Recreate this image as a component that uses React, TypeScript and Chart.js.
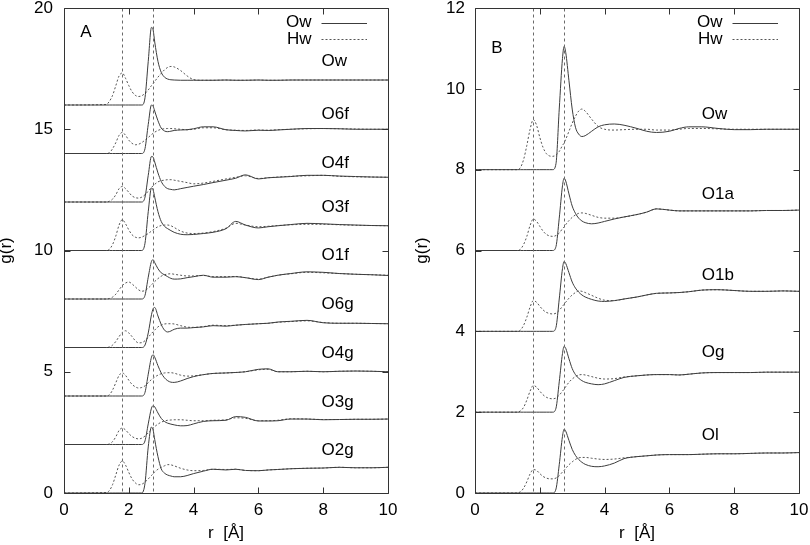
import React, { useEffect, useRef } from 'react';
import { Chart, registerables } from 'chart.js';
Chart.register(...registerables);

// ---------- data ----------
// shared r grid [Å]
const R = [0, 1.3, 1.4, 1.5, 1.6, 1.7, 1.8, 1.9, 2.0, 2.1,
  2.2, 2.3, 2.4, 2.5, 2.6, 2.7, 2.75, 2.8, 2.9, 3.0,
  3.1, 3.2, 3.3, 3.4, 3.6, 3.8, 4.0, 4.3, 4.6, 5.0,
  5.3, 5.6, 6.0, 6.3, 6.6, 7.0, 7.5, 8.0, 8.5, 9.0,
  9.5, 10];

const X_TICKS = [0, 2, 4, 6, 8, 10];
const VLINES = [1.8, 2.75];

// Panel A
const A_NAMES = ['Ow', 'O6f', 'O4f', 'O3f', 'O1f', 'O6g', 'O4g', 'O3g', 'O2g'];
const A_OFFSETS = [16, 14, 12, 10, 8, 6, 4, 2, 0];
const A_LABEL_Y = [17.8, 15.6, 13.6, 11.8, 9.8, 7.8, 5.75, 3.75, 1.75];

const A_OW_O = [0, 0, 0, 0, 0, 0, 0, 0, 0, 0,
  0, 0, 0, 0.3, 1.8, 3.2, 3.1, 2.6, 1.8, 1.35,
  1.15, 1.07, 1.04, 1.03, 1.02, 1.02, 1.02, 1.02, 1.02, 1.03,
  1.02, 1.02, 1.03, 1.02, 1.02, 1.03, 1.03, 1.03, 1.03, 1.03,
  1.03, 1.03];
const A_OW_H = [0, 0.02, 0.15, 0.4, 0.8, 1.2, 1.32, 1.1, 0.8, 0.55,
  0.4, 0.35, 0.38, 0.48, 0.62, 0.8, 0.88, 0.97, 1.15, 1.3,
  1.45, 1.55, 1.59, 1.57, 1.42, 1.2, 1.05, 1.02, 1.02, 1.03,
  1.02, 1.02, 1.03, 1.02, 1.02, 1.03, 1.03, 1.03, 1.03, 1.03,
  1.03, 1.03];
const A_O6F_O = [0, 0, 0, 0, 0, 0, 0, 0, 0, 0,
  0, 0, 0, 0.2, 1.2, 2.0, 1.95, 1.75, 1.35, 1.05,
  0.93, 0.9, 0.92, 0.95, 0.97, 0.98, 1.02, 1.1, 1.1, 0.98,
  0.95, 0.93, 0.96, 0.95, 0.97, 1.0, 1.03, 1.03, 1.02, 1.0,
  1.0, 1.0];
const A_O6F_H = [0, 0, 0.03, 0.2, 0.45, 0.75, 0.87, 0.75, 0.55, 0.42,
  0.36, 0.38, 0.45, 0.55, 0.66, 0.78, 0.83, 0.88, 0.95, 1.0,
  1.02, 1.03, 1.03, 1.02, 1.0, 0.98, 1.0, 1.06, 1.06, 0.98,
  0.96, 0.95, 0.97, 0.96, 0.98, 1.0, 1.02, 1.03, 1.02, 1.01,
  1.0, 1.0];
const A_O4F_O = [0, 0, 0, 0, 0, 0, 0, 0, 0, 0,
  0, 0, 0, 0.2, 1.1, 1.88, 1.85, 1.65, 1.2, 0.85,
  0.65, 0.55, 0.52, 0.5, 0.55, 0.6, 0.65, 0.72, 0.8, 0.9,
  0.98, 1.12, 0.95, 1.0, 1.02, 1.05, 1.1, 1.1, 1.07, 1.05,
  1.03, 1.02];
const A_O4F_H = [0, 0, 0.03, 0.12, 0.3, 0.55, 0.64, 0.55, 0.4, 0.25,
  0.18, 0.16, 0.2, 0.3, 0.45, 0.6, 0.67, 0.73, 0.83, 0.88,
  0.9, 0.92, 0.92, 0.9, 0.85, 0.8, 0.75, 0.78, 0.85, 0.95,
  1.02, 1.08, 0.97, 1.0, 1.03, 1.06, 1.08, 1.1, 1.06, 1.04,
  1.03, 1.02];
const A_O3F_O = [0, 0, 0, 0, 0, 0, 0, 0, 0, 0,
  0, 0, 0, 0.3, 1.6, 2.58, 2.5, 2.2, 1.6, 1.2,
  1.0, 0.9, 0.82, 0.75, 0.67, 0.65, 0.66, 0.7, 0.75, 0.9,
  1.2, 1.05, 0.93, 0.98, 1.02, 1.07, 1.12, 1.1, 1.07, 1.05,
  1.03, 1.02];
const A_O3F_H = [0, 0, 0.05, 0.25, 0.6, 1.05, 1.27, 1.1, 0.85, 0.65,
  0.55, 0.52, 0.55, 0.62, 0.7, 0.8, 0.85, 0.9, 0.98, 1.03,
  1.05, 1.05, 1.02, 0.95, 0.8, 0.72, 0.7, 0.72, 0.78, 0.92,
  1.12, 1.05, 0.98, 1.0, 1.03, 1.06, 1.08, 1.08, 1.06, 1.04,
  1.03, 1.02];
const A_O1F_O = [0, 0, 0, 0, 0, 0, 0, 0, 0, 0,
  0, 0, 0, 0.15, 0.9, 1.55, 1.62, 1.5, 1.25, 1.08,
  1.0, 0.92, 0.85, 0.82, 0.83, 0.88, 0.92, 0.98, 0.9, 0.9,
  0.92, 0.88, 0.8, 0.9, 0.98, 1.05, 1.12, 1.1, 1.05, 1.02,
  1.0, 0.97];
const A_O1F_H = [0, 0, 0.02, 0.08, 0.2, 0.38, 0.55, 0.66, 0.7, 0.62,
  0.5, 0.38, 0.32, 0.35, 0.45, 0.58, 0.65, 0.72, 0.84, 0.94,
  1.0, 1.03, 1.04, 1.02, 0.98, 0.95, 0.95, 0.97, 0.92, 0.92,
  0.93, 0.88, 0.82, 0.9, 0.98, 1.04, 1.1, 1.08, 1.05, 1.02,
  1.0, 0.98];
const A_O6G_O = [0, 0, 0, 0, 0, 0, 0, 0, 0, 0,
  0, 0, 0, 0.1, 0.6, 1.35, 1.6, 1.65, 1.3, 0.95,
  0.72, 0.64, 0.68, 0.75, 0.8, 0.8, 0.82, 0.85, 0.9, 0.88,
  0.92, 0.95, 0.98, 1.0, 1.05, 1.08, 1.12, 1.02, 1.0, 1.0,
  0.99, 0.98];
const A_O6G_H = [0, 0, 0.02, 0.1, 0.25, 0.45, 0.62, 0.69, 0.6, 0.45,
  0.28, 0.19, 0.2, 0.28, 0.42, 0.58, 0.65, 0.72, 0.85, 0.93,
  0.97, 0.98, 0.98, 0.97, 0.9, 0.84, 0.83, 0.86, 0.92, 0.9,
  0.92, 0.95, 0.98, 1.0, 1.04, 1.07, 1.1, 1.03, 1.0, 1.0,
  0.99, 0.98];
const A_O4G_O = [0, 0, 0, 0, 0, 0, 0, 0, 0, 0,
  0, 0, 0, 0.15, 0.9, 1.6, 1.7, 1.6, 1.25, 0.95,
  0.75, 0.63, 0.57, 0.56, 0.62, 0.72, 0.8, 0.88, 0.93, 0.95,
  0.97, 1.0, 1.1, 1.12, 1.0, 1.0, 1.02, 1.0, 1.02, 1.03,
  1.02, 1.0];
const A_O4G_H = [0, 0, 0.05, 0.25, 0.55, 0.85, 0.95, 0.85, 0.65, 0.48,
  0.38, 0.33, 0.35, 0.42, 0.55, 0.68, 0.73, 0.78, 0.86, 0.92,
  0.95, 0.96, 0.96, 0.94, 0.86, 0.82, 0.83, 0.88, 0.93, 0.95,
  0.97, 1.0, 1.08, 1.1, 1.0, 1.0, 1.02, 1.0, 1.02, 1.03,
  1.02, 1.0];
const A_O3G_O = [0, 0, 0, 0, 0, 0, 0, 0, 0, 0,
  0, 0, 0, 0.15, 0.85, 1.5, 1.6, 1.55, 1.3, 1.08,
  0.95, 0.88, 0.84, 0.81, 0.77, 0.78, 0.85, 0.95, 0.98, 1.0,
  1.15, 1.12, 0.97, 0.97, 0.98, 1.05, 1.05, 1.02, 1.03, 1.04,
  1.04, 1.05];
const A_O3G_H = [0, 0, 0.02, 0.12, 0.32, 0.58, 0.68, 0.6, 0.45, 0.33,
  0.26, 0.23, 0.26, 0.35, 0.48, 0.62, 0.68, 0.74, 0.84, 0.92,
  0.97, 1.0, 1.01, 1.02, 1.02, 1.0, 0.98, 0.98, 1.0, 1.02,
  1.1, 1.08, 0.98, 0.98, 1.0, 1.06, 1.05, 1.03, 1.03, 1.04,
  1.04, 1.05];
const A_O2G_O = [0, 0, 0, 0, 0, 0, 0, 0, 0, 0,
  0, 0, 0, 0.4, 1.9, 2.72, 2.6, 2.2, 1.5, 1.0,
  0.82, 0.74, 0.7, 0.67, 0.67, 0.72, 0.8, 0.9, 0.98, 0.95,
  0.98, 0.93, 0.92, 0.95, 0.97, 1.0, 1.02, 1.03, 1.06, 1.04,
  1.04, 1.06];
const A_O2G_H = [0, 0.02, 0.1, 0.35, 0.75, 1.15, 1.32, 1.15, 0.85, 0.58,
  0.42, 0.34, 0.36, 0.45, 0.58, 0.72, 0.8, 0.87, 0.98, 1.06,
  1.12, 1.17, 1.16, 1.12, 1.02, 0.95, 0.92, 0.93, 0.98, 0.97,
  0.98, 0.93, 0.92, 0.95, 0.97, 1.0, 1.02, 1.03, 1.06, 1.04,
  1.04, 1.06];

// Panel B
const B_NAMES = ['Ow', 'O1a', 'O1b', 'Og', 'Ol'];
const B_OFFSETS = [8, 6, 4, 2, 0];
const B_LABEL_Y = [9.38, 7.4, 5.38, 3.48, 1.42];

const B_OW_O = [0, 0, 0, 0, 0, 0, 0, 0, 0, 0,
  0, 0, 0, 0.15, 1.5, 2.75, 3.05, 2.9, 2.2, 1.5,
  1.05, 0.88, 0.82, 0.84, 0.95, 1.06, 1.11, 1.13, 1.1, 1.02,
  0.95, 0.92, 0.95, 1.02, 1.06, 1.06, 1.02, 0.99, 0.99, 1.0,
  1.0, 1.0];
const B_OW_H = [0, 0, 0.05, 0.25, 0.6, 1.0, 1.24, 1.1, 0.8, 0.55,
  0.4, 0.34, 0.33, 0.36, 0.45, 0.6, 0.66, 0.75, 0.95, 1.15,
  1.32, 1.45, 1.5, 1.45, 1.25, 1.07, 1.0, 0.98, 0.99, 1.0,
  1.0, 0.98, 0.98, 1.0, 1.02, 1.02, 1.01, 1.0, 1.0, 1.0,
  1.0, 1.0];
const B_O1A_O = [0, 0, 0, 0, 0, 0, 0, 0, 0, 0,
  0, 0, 0, 0.1, 0.8, 1.6, 1.79, 1.72, 1.4, 1.1,
  0.92, 0.8, 0.73, 0.69, 0.66, 0.68, 0.72, 0.78, 0.83, 0.89,
  0.95, 1.03, 1.0, 0.98, 0.98, 0.98, 0.98, 0.98, 0.98, 0.99,
  0.99, 1.0];
const B_O1A_H = [0, 0, 0.03, 0.15, 0.35, 0.62, 0.78, 0.72, 0.6, 0.48,
  0.4, 0.36, 0.35, 0.37, 0.43, 0.54, 0.58, 0.64, 0.74, 0.82,
  0.88, 0.92, 0.93, 0.92, 0.87, 0.82, 0.8, 0.8, 0.83, 0.89,
  0.95, 1.03, 1.0, 0.98, 0.98, 0.98, 0.98, 0.98, 0.98, 0.99,
  0.99, 1.0];
const B_O1B_O = [0, 0, 0, 0, 0, 0, 0, 0, 0, 0,
  0, 0, 0, 0.1, 0.8, 1.55, 1.73, 1.68, 1.45, 1.22,
  1.07, 0.97, 0.9, 0.85, 0.79, 0.75, 0.74, 0.76, 0.8, 0.85,
  0.9, 0.94, 0.95, 0.96, 0.98, 1.02, 1.03, 1.01, 0.99, 0.99,
  1.0, 0.99];
const B_O1B_H = [0, 0, 0.03, 0.15, 0.35, 0.6, 0.76, 0.72, 0.62, 0.53,
  0.47, 0.44, 0.43, 0.45, 0.52, 0.62, 0.67, 0.72, 0.82, 0.9,
  0.96, 1.0, 0.99, 0.96, 0.89, 0.82, 0.77, 0.76, 0.8, 0.85,
  0.9, 0.94, 0.95, 0.96, 0.98, 1.02, 1.03, 1.01, 0.99, 0.99,
  1.0, 0.99];
const B_OG_O = [0, 0, 0, 0, 0, 0, 0, 0, 0, 0,
  0, 0, 0, 0.1, 0.75, 1.45, 1.63, 1.58, 1.32, 1.08,
  0.93, 0.84, 0.78, 0.74, 0.7, 0.68, 0.7, 0.78, 0.86, 0.9,
  0.92, 0.93, 0.93, 0.92, 0.94, 0.97, 0.98, 0.98, 0.98, 0.99,
  0.99, 0.99];
const B_OG_H = [0, 0, 0.03, 0.12, 0.3, 0.52, 0.66, 0.62, 0.52, 0.43,
  0.37, 0.34, 0.33, 0.35, 0.42, 0.52, 0.57, 0.63, 0.74, 0.82,
  0.88, 0.92, 0.93, 0.92, 0.88, 0.84, 0.82, 0.83, 0.87, 0.9,
  0.92, 0.93, 0.93, 0.92, 0.94, 0.97, 0.98, 0.98, 0.98, 0.99,
  0.99, 0.99];
const B_OL_O = [0, 0, 0, 0, 0, 0, 0, 0, 0, 0,
  0, 0, 0, 0.1, 0.7, 1.4, 1.58, 1.53, 1.3, 1.08,
  0.93, 0.83, 0.76, 0.71, 0.66, 0.65, 0.67, 0.74, 0.85, 0.9,
  0.92, 0.94, 0.95, 0.95, 0.95, 0.96, 0.97, 0.97, 0.98, 0.99,
  0.99, 1.0];
const B_OL_H = [0, 0, 0.03, 0.12, 0.28, 0.47, 0.58, 0.56, 0.48, 0.41,
  0.37, 0.35, 0.35, 0.37, 0.43, 0.52, 0.56, 0.61, 0.7, 0.77,
  0.83, 0.87, 0.88, 0.88, 0.86, 0.84, 0.83, 0.84, 0.87, 0.9,
  0.92, 0.94, 0.95, 0.95, 0.95, 0.96, 0.97, 0.97, 0.98, 0.99,
  0.99, 1.0];

// ---------- styling ----------
const FONT = '"Liberation Sans", Arial, Helvetica, sans-serif';
const FS = 17;
const CURVE = '#3c3c3c';
const DASHED = '#555555';
const FRAME = '#333333';

type Panel = {
  names: string[];
  offsets: number[];
  solid: number[][];
  dashed: number[][];
  labelY: number[];
  labelR: number;
  yMax: number;
  yStep: number;
  tag: string;
  tagPos: [number, number];
  padLeft: number;
  yWidth: number;
  padRight: number;
  tickPad: number;
};

const PANEL_A: Panel = {
  names: A_NAMES,
  offsets: A_OFFSETS,
  solid: [A_OW_O, A_O6F_O, A_O4F_O, A_O3F_O, A_O1F_O, A_O6G_O, A_O4G_O, A_O3G_O, A_O2G_O],
  dashed: [A_OW_H, A_O6F_H, A_O4F_H, A_O3F_H, A_O1F_H, A_O6G_H, A_O4G_H, A_O3G_H, A_O2G_H],
  labelY: A_LABEL_Y,
  labelR: 7.95,
  yMax: 20,
  yStep: 5,
  tag: 'A',
  tagPos: [0.5, 19],
  padLeft: 0,
  yWidth: 64,
  padRight: 17,
  tickPad: 11,
};

const PANEL_B: Panel = {
  names: B_NAMES,
  offsets: B_OFFSETS,
  solid: [B_OW_O, B_O1A_O, B_O1B_O, B_OG_O, B_OL_O],
  dashed: [B_OW_H, B_O1A_H, B_O1B_H, B_OG_H, B_OL_H],
  labelY: B_LABEL_Y,
  labelR: 7.0,
  yMax: 12,
  yStep: 2,
  tag: 'B',
  tagPos: [0.5, 11],
  padLeft: 11,
  yWidth: 59,
  padRight: 11,
  tickPad: 10,
};

function decorPlugin(p: Panel) {
  return {
    id: 'decor',
    afterDatasetsDraw(chart: any) {
      const { ctx, chartArea: a, scales } = chart;
      const x = scales.x;
      const y = scales.y;
      const L = Math.round(a.left) + 0.5;
      const Rr = Math.round(a.right) + 0.5;
      const T = Math.round(a.top) + 0.5;
      const B = Math.round(a.bottom) + 0.5;
      ctx.save();
      // vertical reference lines
      ctx.strokeStyle = '#6a6a6a';
      ctx.lineWidth = 1;
      ctx.setLineDash([3, 3]);
      for (const v of VLINES) {
        const px = Math.round(x.getPixelForValue(v)) + 0.5;
        ctx.beginPath();
        ctx.moveTo(px, T);
        ctx.lineTo(px, B);
        ctx.stroke();
      }
      ctx.setLineDash([]);
      // frame
      ctx.strokeStyle = FRAME;
      ctx.beginPath();
      ctx.rect(L, T, Rr - L, B - T);
      ctx.stroke();
      // inward ticks, mirrored on all sides
      const tl = 6;
      ctx.beginPath();
      for (const v of X_TICKS) {
        const px = Math.round(x.getPixelForValue(v)) + 0.5;
        ctx.moveTo(px, B); ctx.lineTo(px, B - tl);
        ctx.moveTo(px, T); ctx.lineTo(px, T + tl);
      }
      for (let v = 0; v <= p.yMax; v += p.yStep) {
        const py = Math.round(y.getPixelForValue(v)) + 0.5;
        ctx.moveTo(L, py); ctx.lineTo(L + tl, py);
        ctx.moveTo(Rr, py); ctx.lineTo(Rr - tl, py);
      }
      ctx.stroke();
      // texts
      ctx.fillStyle = '#000';
      ctx.font = `${FS}px ${FONT}`;
      ctx.textBaseline = 'middle';
      ctx.textAlign = 'left';
      ctx.fillText(p.tag, x.getPixelForValue(p.tagPos[0]), y.getPixelForValue(p.tagPos[1]));
      p.names.forEach((n, i) => {
        ctx.fillText(n, x.getPixelForValue(p.labelR), y.getPixelForValue(p.labelY[i]));
      });
      // legend
      ctx.textAlign = 'right';
      const ly1 = a.top + 14.5;
      const ly2 = a.top + 31;
      ctx.fillText('Ow', a.right - 76.5, ly1);
      ctx.fillText('Hw', a.right - 76.5, ly2);
      ctx.strokeStyle = CURVE;
      ctx.beginPath();
      ctx.moveTo(a.right - 66.5, Math.round(ly1) + 0.5);
      ctx.lineTo(a.right - 21, Math.round(ly1) + 0.5);
      ctx.stroke();
      ctx.strokeStyle = DASHED;
      ctx.setLineDash([2, 2]);
      ctx.beginPath();
      ctx.moveTo(a.right - 66.5, Math.round(ly2) + 0.5);
      ctx.lineTo(a.right - 21, Math.round(ly2) + 0.5);
      ctx.stroke();
      ctx.restore();
    },
  };
}

function buildConfig(p: Panel): any {
  const datasets: any[] = [];
  p.names.forEach((n, i) => {
    datasets.push({
      label: `${n} Ow`,
      data: R.map((r, k) => ({ x: r, y: p.solid[i][k] + p.offsets[i] })),
      borderColor: CURVE,
      borderWidth: 1,
      pointRadius: 0,
      fill: false,
      tension: 0.3,
      cubicInterpolationMode: 'monotone',
    });
    datasets.push({
      label: `${n} Hw`,
      data: R.map((r, k) => ({ x: r, y: p.dashed[i][k] + p.offsets[i] })),
      borderColor: DASHED,
      borderWidth: 1,
      borderDash: [2, 2],
      pointRadius: 0,
      fill: false,
      tension: 0.3,
      cubicInterpolationMode: 'monotone',
    });
  });
  const tickFont = { family: FONT, size: FS };
  return {
    type: 'line',
    data: { datasets },
    options: {
      animation: false,
      responsive: false,
      devicePixelRatio: 1,
      layout: { padding: { left: p.padLeft, right: p.padRight, top: 8, bottom: 0 } },
      plugins: { legend: { display: false }, tooltip: { enabled: false } },
      scales: {
        x: {
          type: 'linear',
          min: 0,
          max: 10,
          ticks: { stepSize: 2, padding: 7, color: '#000', font: tickFont },
          grid: { display: false, drawTicks: false },
          border: { display: false },
          title: {
            display: true,
            text: 'r  [Å]',
            color: '#000',
            font: { family: FONT, size: FS },
            padding: { top: 0, bottom: 1 },
          },
          afterFit: (s: any) => {
            s.height = 52;
            s.paddingLeft = 0;
            s.paddingRight = 0;
          },
        },
        y: {
          type: 'linear',
          min: 0,
          max: p.yMax,
          ticks: { stepSize: p.yStep, padding: p.tickPad, color: '#000', font: tickFont },
          grid: { display: false, drawTicks: false },
          border: { display: false },
          title: {
            display: true,
            text: 'g(r)',
            color: '#000',
            font: { family: FONT, size: FS, lineHeight: 0.8 },
            padding: { top: 0, bottom: 0 },
          },
          afterFit: (s: any) => {
            s.width = p.yWidth;
            s.paddingTop = 0;
            s.paddingBottom = 0;
          },
        },
      },
    },
    plugins: [decorPlugin(p)],
  };
}

export default function App() {
  const refA = useRef<HTMLCanvasElement>(null);
  const refB = useRef<HTMLCanvasElement>(null);
  useEffect(() => {
    const ca = new Chart(refA.current as HTMLCanvasElement, buildConfig(PANEL_A));
    const cb = new Chart(refB.current as HTMLCanvasElement, buildConfig(PANEL_B));
    return () => {
      ca.destroy();
      cb.destroy();
    };
  }, []);
  return (
    <div style={{ position: 'absolute', left: 0, top: 0, width: 810, height: 545, background: '#fff' }}>
      <canvas ref={refA} width={405} height={545}
        style={{ position: 'absolute', left: 0, top: 0, width: 405, height: 545 }} />
      <canvas ref={refB} width={405} height={545}
        style={{ position: 'absolute', left: 405, top: 0, width: 405, height: 545 }} />
    </div>
  );
}
